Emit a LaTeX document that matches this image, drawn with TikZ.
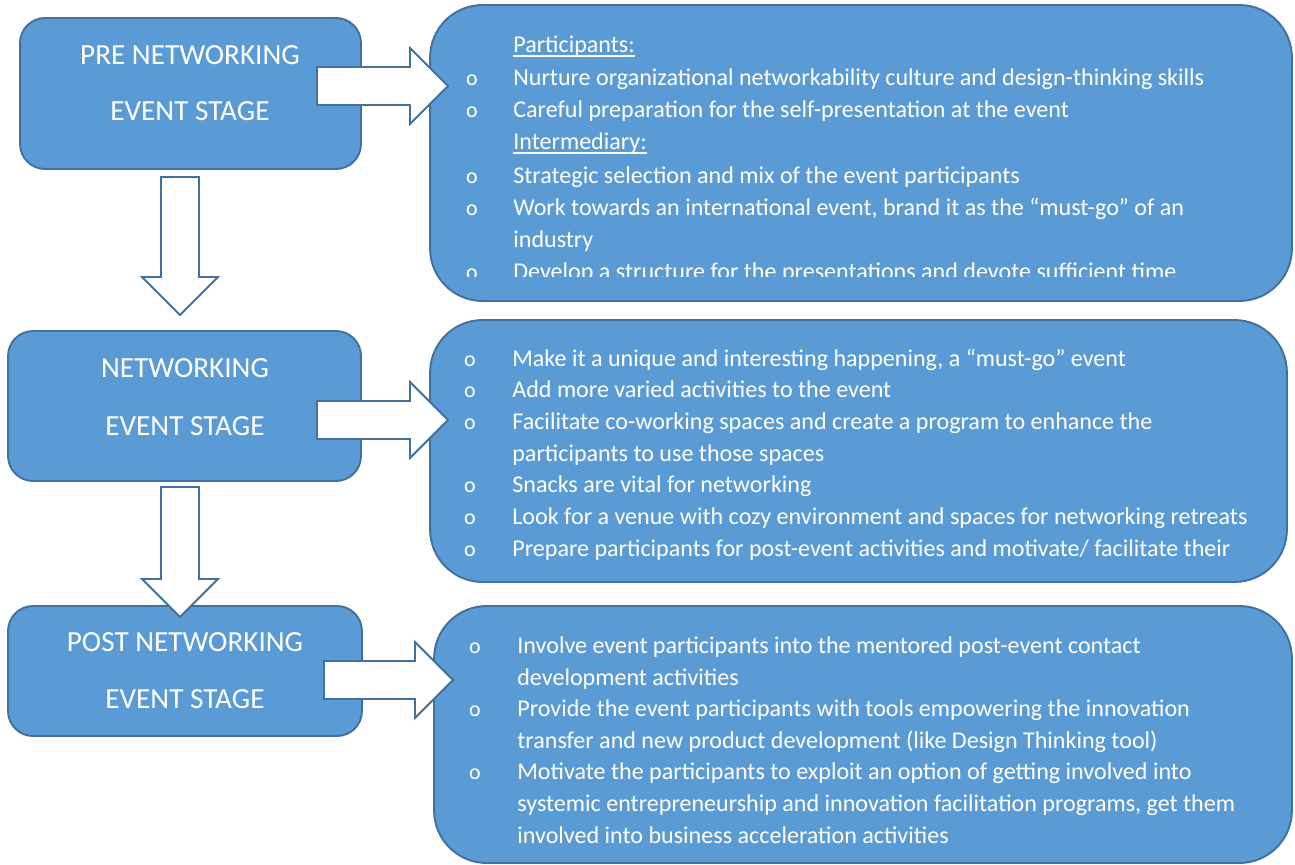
\documentclass[tikz,border=0pt]{standalone}
\usepackage{fontspec}
\setmainfont{Carlito}
\definecolor{boxFill}{HTML}{5B9BD5}
\definecolor{boxStroke}{HTML}{41719C}
% underline sitting just below the baseline
\newcommand{\ulined}[1]{\setbox0\hbox{#1}\rlap{\vrule height -1.2pt depth 2pt width \wd0}\box0}

\tikzset{
  stagebox/.style={draw=boxStroke, fill=boxFill, line width=1.1pt, rounded corners=0.5cm},
  listbox/.style={draw=boxStroke, fill=boxFill, line width=1.1pt, rounded corners=1.05cm},
  arrowshape/.style={draw=boxStroke, fill=white, line width=1.1pt},
  stagetext/.style={anchor=base, text=white, inner sep=0pt, font=\fontsize{16.6}{20}\selectfont},
  item/.style={anchor=base west, text=white, inner sep=0pt, font=\fontsize{13.7}{16}\selectfont},
  bul/.style={anchor=base, text=white, inner sep=0pt, font=\fontsize{12.5}{14}\selectfont},
  blockarrow/.pic={
    \draw[arrowshape] (0,-19) -- (#1-38,-19) -- (#1-38,-38) -- (#1,0)
      -- (#1-38,38) -- (#1-38,19) -- (0,19) -- cycle;
  }
}

\begin{document}
\begin{tikzpicture}[x=0.02cm, y=-0.02cm]
  \useasboundingbox (0,0) rectangle (1295,865);

  % stage boxes on the left
  \node[stagebox, minimum width=6.82cm, minimum height=3.02cm] (pre) at (190.5,93.5) {};
  \node[stagebox, minimum width=7.06cm, minimum height=3.00cm] (net) at (184.5,406) {};
  \node[stagebox, minimum width=7.08cm, minimum height=2.60cm] (post) at (185,671) {};

  % lists on the right
  \node[listbox, minimum width=17.24cm, minimum height=5.92cm] (prelist) at (861,153) {};
  \node[listbox, minimum width=17.14cm, minimum height=5.24cm] (netlist) at (858.5,451) {};
  \node[listbox, minimum width=17.16cm, minimum height=5.14cm] (postlist) at (863,734.5) {};

  % block arrows
  \pic (preArr) at (317,86) {blockarrow=131};
  \pic (netArr) at (317,420) {blockarrow=131};
  \pic (postArr) at (324,680) {blockarrow=129};
  \pic[rotate=-90] (preDown) at (180,177) {blockarrow=138};
  \pic[rotate=-90] (netDown) at (180,487) {blockarrow=130};

  % stage titles
  \node[stagetext] (preA) at (190,65) {PRE NETWORKING};
  \node[stagetext] (preB) at (190,121) {EVENT STAGE};
  \node[stagetext] (netA) at (185,377) {NETWORKING};
  \node[stagetext] (netB) at (185,435) {EVENT STAGE};
  \node[stagetext] (postA) at (185,651) {POST NETWORKING};
  \node[stagetext] (postB) at (185,708) {EVENT STAGE};

  % pre networking list, last line runs out of the box
  \begin{scope}
    \clip (430,5) rectangle (1292,276);
    \node[item] (p0) at (513,53) {\ulined{Participants:}};
    \node[bul] (pb1) at (472,86) {o};
    \node[item] (p1) at (513,86) {Nurture organizational networkability culture and design-thinking skills};
    \node[bul] (pb2) at (472,118) {o};
    \node[item] (p2) at (513,118) {Careful preparation for the self-presentation at the event};
    \node[item] (p3) at (513,150) {\ulined{Intermediary:}};
    \node[bul] (pb4) at (472,183) {o};
    \node[item] (p4) at (513,183) {Strategic selection and mix of the event participants};
    \node[bul] (pb5) at (472,215) {o};
    \node[item] (p5) at (513,215) {Work towards an international event, brand it as the “must-go” of an};
    \node[item] (p6) at (513,247) {industry};
    \node[bul] (pb7) at (472,279) {o};
    \node[item] (p7) at (513,279) {Develop a structure for the presentations and devote sufficient time};
  \end{scope}

  % networking list
  \node[bul] (nb1) at (470,366) {o};
  \node[item] (n1) at (512,366) {Make it a unique and interesting happening, a “must-go” event};
  \node[bul] (nb2) at (470,397) {o};
  \node[item] (n2) at (512,397) {Add more varied activities to the event};
  \node[bul] (nb3) at (470,429) {o};
  \node[item] (n3) at (512,429) {Facilitate co-working spaces and create a program to enhance the};
  \node[item] (n4) at (512,461) {participants to use those spaces};
  \node[bul] (nb5) at (470,492) {o};
  \node[item] (n5) at (512,492) {Snacks are vital for networking};
  \node[bul] (nb6) at (470,524) {o};
  \node[item] (n6) at (512,524) {Look for a venue with cozy environment and spaces for networking retreats};
  \node[bul] (nb7) at (470,556) {o};
  \node[item] (n7) at (512,556) {Prepare participants for post-event activities and motivate/ facilitate their};

  % post networking list
  \node[bul] (qb1) at (475,653) {o};
  \node[item] (q1) at (517,653) {Involve event participants into the mentored post-event contact};
  \node[item] (q2) at (517,685) {development activities};
  \node[bul] (qb3) at (475,716) {o};
  \node[item] (q3) at (517,716) {Provide the event participants with tools empowering the innovation};
  \node[item] (q4) at (517,748) {transfer and new product development (like Design Thinking tool)};
  \node[bul] (qb5) at (475,779) {o};
  \node[item] (q5) at (517,779) {Motivate the participants to exploit an option of getting involved into};
  \node[item] (q6) at (517,811) {systemic entrepreneurship and innovation facilitation programs, get them};
  \node[item] (q7) at (517,843) {involved into business acceleration activities};
\end{tikzpicture}
\end{document}
